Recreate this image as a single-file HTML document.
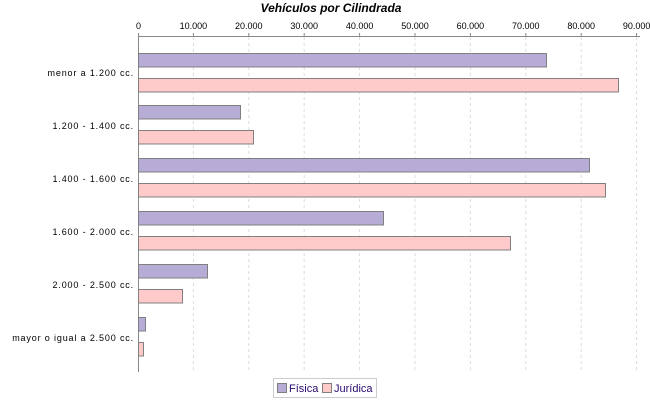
<!DOCTYPE html>
<html><head><meta charset="utf-8"><style>body{margin:0;background:#fff}svg{display:block}</style></head><body>
<svg width="650" height="400" xmlns="http://www.w3.org/2000/svg" font-family="Liberation Sans, sans-serif">
<rect width="650" height="400" fill="#fff"/>
<text x="331" y="12" text-anchor="middle" font-size="12" font-weight="bold" font-style="italic">Vehículos por Cilindrada</text>
<g stroke="#ddd" stroke-dasharray="3,3">
<line x1="193.4" y1="37" x2="193.4" y2="372"/><line x1="248.8" y1="37" x2="248.8" y2="372"/><line x1="304.2" y1="37" x2="304.2" y2="372"/><line x1="359.6" y1="37" x2="359.6" y2="372"/><line x1="415" y1="37" x2="415" y2="372"/><line x1="470.4" y1="37" x2="470.4" y2="372"/><line x1="525.8" y1="37" x2="525.8" y2="372"/><line x1="581.2" y1="37" x2="581.2" y2="372"/><line x1="636.6" y1="37" x2="636.6" y2="372"/>
</g>
<line x1="138" y1="36.5" x2="640" y2="36.5" stroke="#888"/>
<line x1="138.5" y1="36" x2="138.5" y2="372" stroke="#888"/>
<g stroke="#888">
<line x1="138.5" y1="33" x2="138.5" y2="36"/><line x1="193.4" y1="33" x2="193.4" y2="36"/><line x1="248.8" y1="33" x2="248.8" y2="36"/><line x1="304.2" y1="33" x2="304.2" y2="36"/><line x1="359.6" y1="33" x2="359.6" y2="36"/><line x1="415" y1="33" x2="415" y2="36"/><line x1="470.4" y1="33" x2="470.4" y2="36"/><line x1="525.8" y1="33" x2="525.8" y2="36"/><line x1="581.2" y1="33" x2="581.2" y2="36"/><line x1="636.6" y1="33" x2="636.6" y2="36"/>
</g>
<g font-size="9" text-anchor="middle" fill="#000">
<text x="138.5" y="29">0</text><text x="193.4" y="29">10.000</text><text x="248.8" y="29">20.000</text><text x="304.2" y="29">30.000</text><text x="359.6" y="29">40.000</text><text x="415" y="29">50.000</text><text x="470.4" y="29">60.000</text><text x="525.8" y="29">70.000</text><text x="581.2" y="29">80.000</text><text x="636.6" y="29">90.000</text>
</g>
<g stroke="#808080" stroke-width="1">
<rect x="138.5" y="53.5" width="408" height="13.5" fill="#b6acd6"/>
<rect x="138.5" y="78.5" width="480" height="13.5" fill="#fecaca"/>
<rect x="138.5" y="105.5" width="102" height="13.5" fill="#b6acd6"/>
<rect x="138.5" y="130.5" width="115" height="13.5" fill="#fecaca"/>
<rect x="138.5" y="158.5" width="451" height="13.5" fill="#b6acd6"/>
<rect x="138.5" y="183.5" width="467" height="13.5" fill="#fecaca"/>
<rect x="138.5" y="211.5" width="245" height="13.5" fill="#b6acd6"/>
<rect x="138.5" y="236.5" width="372" height="13.5" fill="#fecaca"/>
<rect x="138.5" y="264.5" width="69" height="13.5" fill="#b6acd6"/>
<rect x="138.5" y="289.5" width="44" height="13.5" fill="#fecaca"/>
<rect x="138.5" y="317.5" width="7" height="13.5" fill="#b6acd6"/>
<rect x="138.5" y="342.5" width="5" height="13.5" fill="#fecaca"/>
</g>
<g font-size="9" text-anchor="end" fill="#000" letter-spacing="0.85">
<text x="134" y="76">menor a 1.200 cc.</text>
<text x="134" y="129">1.200 - 1.400 cc.</text>
<text x="134" y="182">1.400 - 1.600 cc.</text>
<text x="134" y="235">1.600 - 2.000 cc.</text>
<text x="134" y="288">2.000 - 2.500 cc.</text>
<text x="134" y="341">mayor o igual a 2.500 cc.</text>
</g>
<rect x="273.5" y="378.5" width="103" height="19" fill="#fff" stroke="#ccc"/>
<rect x="277.5" y="383.5" width="9" height="9" fill="#b6acd6" stroke="#808080"/>
<text x="289" y="392" font-size="11" fill="#2a0a6e">Física</text>
<rect x="322.5" y="383.5" width="9" height="9" fill="#fecaca" stroke="#808080"/>
<text x="334" y="392" font-size="11" fill="#2a0a6e">Jurídica</text>
</svg>
</body></html>
